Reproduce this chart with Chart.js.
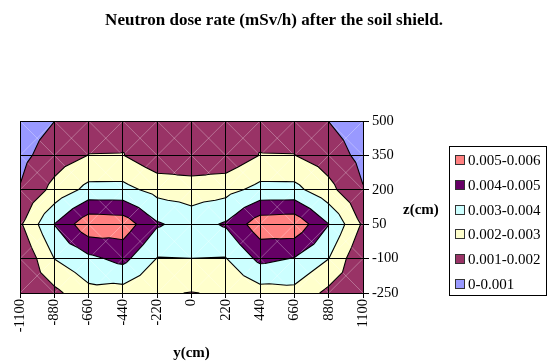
<!DOCTYPE html>
<html>
<head>
<meta charset="utf-8">
<script src="https://cdn.jsdelivr.net/npm/chart.js@4.4.1/dist/chart.umd.min.js"></script>
<style>
  html, body { margin: 0; padding: 0; background: #fff; }
  #wrap { width: 549px; height: 363px; position: relative; }
</style>
</head>
<body>
<div id="wrap"><canvas id="dose-chart"></canvas></div>
<script>
// grid nodes: lateral position y and height z, both in cm
const yCm = [-1100, -880, -660, -440, -220, 0, 220, 440, 660, 880, 1100];
const zCm = [500, 350, 200, 50, -100, -250];

// neutron dose rate (mSv/h) at each node, one row per z
const doseZ500  = [0.00050, 0.00099, 0.00150, 0.00170, 0.00201, 0.00201, 0.00201, 0.00170, 0.00150, 0.00099, 0.00050];
const doseZ350  = [0.00072, 0.00150, 0.00202, 0.00203, 0.00128, 0.00130, 0.00128, 0.00203, 0.00202, 0.00150, 0.00072];
const doseZ200  = [0.00105, 0.00230, 0.00330, 0.00331, 0.00267, 0.00247, 0.00267, 0.00331, 0.00330, 0.00230, 0.00105];
const doseZ50   = [0.00185, 0.00402, 0.00572, 0.00559, 0.00411, 0.00360, 0.00411, 0.00559, 0.00572, 0.00402, 0.00185];
const doseZm100 = [0.00104, 0.00301, 0.00377, 0.00429, 0.00296, 0.00299, 0.00296, 0.00425, 0.00395, 0.00301, 0.00104];
const doseZm250 = [0.00120, 0.00175, 0.00270, 0.00257, 0.00210, 0.00197, 0.00210, 0.00257, 0.00270, 0.00175, 0.00120];
const doseRows = [doseZ500, doseZ350, doseZ200, doseZ50, doseZm100, doseZm250];

// contour bands, lowest first
const bandLevels = [0, 0.001, 0.002, 0.003, 0.004, 0.005];
const bandLabels = ['0-0.001', '0.001-0.002', '0.002-0.003', '0.003-0.004', '0.004-0.005', '0.005-0.006'];
const bandColors = ['#9999FF', '#993366', '#FFFFCC', '#CCFFFF', '#660066', '#FF8080'];

const serif = "'Liberation Serif', 'Times New Roman', serif";

// split every grid cell into 4 triangles around its centre (mean value)
function buildTriangles(sx, sy) {
    const node = (r, c) => ({
        px: sx.getPixelForValue(yCm[c]),
        py: sy.getPixelForValue(zCm[r]),
        v: doseRows[r][c]
    });
    const tris = [];
    for (let r = 0; r < zCm.length - 1; r++) {
        for (let c = 0; c < yCm.length - 1; c++) {
            const a = node(r, c), b = node(r, c + 1), d = node(r + 1, c + 1), e = node(r + 1, c);
            const m = {
                px: (a.px + b.px + d.px + e.px) / 4,
                py: (a.py + b.py + d.py + e.py) / 4,
                v: (a.v + b.v + d.v + e.v) / 4
            };
            tris.push([a, b, m], [b, d, m], [d, e, m], [e, a, m]);
        }
    }
    return tris;
}

// keep the part of a polygon where value >= lvl
function clipAbove(poly, lvl) {
    const out = [];
    for (let i = 0; i < poly.length; i++) {
        const p = poly[i], q = poly[(i + 1) % poly.length];
        const pin = p.v >= lvl, qin = q.v >= lvl;
        if (pin) out.push(p);
        if (pin !== qin) {
            const t = (lvl - p.v) / (q.v - p.v);
            out.push({ px: p.px + t * (q.px - p.px), py: p.py + t * (q.py - p.py), v: lvl });
        }
    }
    return out;
}

const contourPlugin = {
    id: 'contour',
    beforeDatasetsDraw(chart) {
        const { ctx, chartArea: area, scales: { x, y } } = chart;
        const tris = buildTriangles(x, y);
        ctx.save();
        ctx.beginPath();
        ctx.rect(area.left, area.top, area.right - area.left, area.bottom - area.top);
        ctx.clip();

        // bands: each layer covers everything at or above its level
        bandLevels.forEach((lvl, k) => {
            ctx.beginPath();
            tris.forEach(t => {
                const p = clipAbove(t, lvl);
                if (p.length < 3) return;
                ctx.moveTo(p[0].px, p[0].py);
                for (let i = 1; i < p.length; i++) ctx.lineTo(p[i].px, p[i].py);
                ctx.closePath();
            });
            ctx.fillStyle = bandColors[k];
            ctx.fill();
        });

        // faint cell diagonals
        ctx.strokeStyle = 'rgba(255,255,255,0.3)';
        ctx.lineWidth = 1;
        ctx.beginPath();
        for (let r = 0; r < zCm.length - 1; r++) {
            for (let c = 0; c < yCm.length - 1; c++) {
                const x0 = x.getPixelForValue(yCm[c]), x1 = x.getPixelForValue(yCm[c + 1]);
                const y0 = y.getPixelForValue(zCm[r]), y1 = y.getPixelForValue(zCm[r + 1]);
                ctx.moveTo(x0, y0); ctx.lineTo(x1, y1);
                ctx.moveTo(x1, y0); ctx.lineTo(x0, y1);
            }
        }
        ctx.stroke();

        // contour lines between bands
        ctx.strokeStyle = '#000';
        ctx.lineWidth = 1.1;
        ctx.lineJoin = 'round';
        ctx.beginPath();
        bandLevels.slice(1).forEach(lvl => {
            tris.forEach(t => {
                const pts = [];
                for (let i = 0; i < 3; i++) {
                    const p = t[i], q = t[(i + 1) % 3];
                    if ((p.v >= lvl) !== (q.v >= lvl)) {
                        const f = (lvl - p.v) / (q.v - p.v);
                        pts.push([p.px + f * (q.px - p.px), p.py + f * (q.py - p.py)]);
                    }
                }
                if (pts.length === 2) {
                    ctx.moveTo(pts[0][0], pts[0][1]);
                    ctx.lineTo(pts[1][0], pts[1][1]);
                }
            });
        });
        ctx.stroke();
        ctx.restore();
    },
    afterDraw(chart) {
        const ctx = chart.ctx;
        ctx.save();
        ctx.fillStyle = '#000';

        ctx.font = 'bold 17px ' + serif;
        ctx.textAlign = 'center';
        ctx.textBaseline = 'alphabetic';
        ctx.fillText('Neutron dose rate (mSv/h) after the soil shield.', 274, 25);

        ctx.font = 'bold 15px ' + serif;
        ctx.textAlign = 'left';
        ctx.textBaseline = 'middle';
        ctx.fillText('z(cm)', 403, 210);

        // legend box, highest band on top
        ctx.strokeStyle = '#000';
        ctx.lineWidth = 1;
        ctx.strokeRect(449.5, 146.5, 97, 149);
        ctx.font = '15px ' + serif;
        for (let i = 0; i < bandLabels.length; i++) {
            const k = bandLabels.length - 1 - i;
            const cy = Math.round(160 + i * 24.75);
            ctx.fillStyle = bandColors[k];
            ctx.fillRect(455, cy - 5, 10, 10);
            ctx.strokeStyle = '#333';
            ctx.strokeRect(455.5, cy - 4.5, 9, 9);
            ctx.fillStyle = '#000';
            ctx.fillText(bandLabels[k], 468, cy + 1);
        }
        ctx.restore();
    }
};

new Chart(document.getElementById('dose-chart'), {
    type: 'scatter',
    data: { datasets: [] },
    options: {
        responsive: true,
        maintainAspectRatio: false,
        animation: false,
        layout: { padding: { left: 20, top: 121, right: 0, bottom: 0 } },
        plugins: { legend: { display: false }, tooltip: { enabled: false } },
        scales: {
            x: {
                type: 'linear',
                position: 'bottom',
                min: -1100,
                max: 1100,
                ticks: {
                    stepSize: 220,
                    autoSkip: false,
                    minRotation: 90,
                    maxRotation: 90,
                    padding: 1,
                    color: '#000',
                    font: { family: serif, size: 14.5 },
                    callback: v => String(v)
                },
                grid: { color: '#000', lineWidth: 1, tickLength: 5, z: 1 },
                border: { color: '#000', width: 1, z: 1 },
                title: {
                    display: true,
                    text: 'y(cm)',
                    color: '#000',
                    font: { family: serif, size: 15, weight: 'bold' },
                    padding: { top: 0, bottom: 1 }
                },
                afterFit(scale) { scale.height = 70; }
            },
            y: {
                type: 'linear',
                position: 'right',
                min: -250,
                max: 500,
                ticks: {
                    stepSize: 150,
                    padding: 3,
                    color: '#000',
                    font: { family: serif, size: 14.5 },
                    callback: v => String(v)
                },
                grid: { color: '#000', lineWidth: 1, tickLength: 6, z: 1 },
                border: { color: '#000', width: 1, z: 1 },
                afterFit(scale) { scale.width = 186; }
            }
        }
    },
    plugins: [contourPlugin]
});
</script>
</body>
</html>
